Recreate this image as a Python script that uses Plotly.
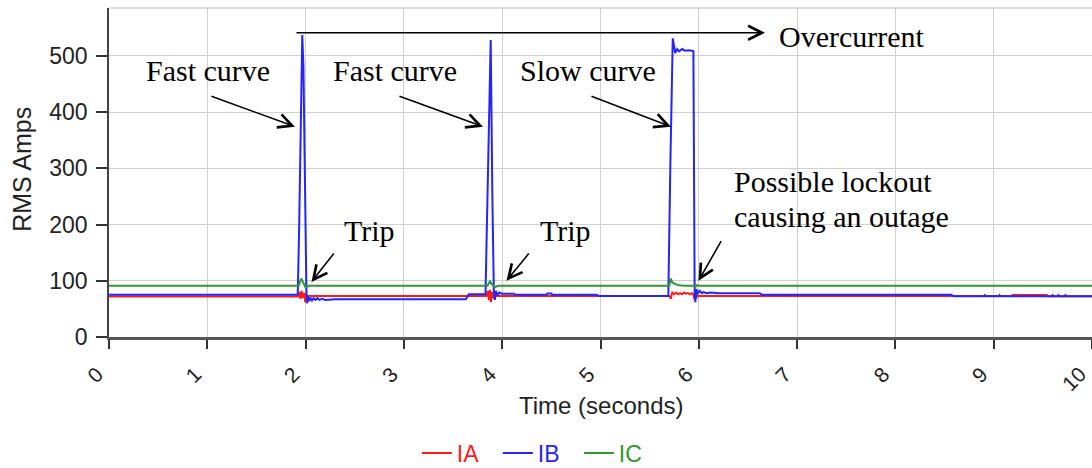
import plotly.graph_objects as go

# ---- data ----
ia_t = [0, 1.93, 1.94, 1.95, 1.96, 1.97, 1.985, 1.995, 2.005, 2.02,
        3.84, 3.855, 3.865, 3.875, 3.885, 3.895, 3.905, 3.92, 3.935,
        5.70, 5.715, 5.73, 5.75, 5.77, 5.79, 5.81, 5.83, 5.85, 5.87, 5.89, 5.91, 5.93,
        5.945, 5.955, 5.965, 5.975, 5.99, 6.0, 9.18, 9.19, 9.54, 9.55, 10]
ia_v = [72, 72, 80, 68, 82, 70, 78, 62, 75, 73,
        73, 82, 66, 84, 62, 80, 69, 75, 73,
        73, 68, 79, 76, 79, 76, 78, 76, 79, 77, 78, 76, 78,
        76, 67, 80, 69, 74, 73, 73, 74.5, 74.5, 72.5, 72.5]

ib_t = [0, 1.92, 1.935, 1.955, 1.966, 1.978, 1.995, 2.008, 2.015, 2.025, 2.035, 2.05,
        2.065, 2.08, 2.1, 2.12, 2.14, 2.17, 2.2, 2.25, 2.3,
        3.63, 3.66, 3.83, 3.85, 3.883, 3.90, 3.915, 3.925, 3.935, 3.95, 3.97, 4.0,
        4.12, 4.13, 4.45, 4.46, 4.5, 4.51, 4.96, 4.98,
        5.69, 5.71, 5.735, 5.76, 5.78, 5.80, 5.83, 5.86, 5.90, 5.93, 5.945,
        5.958, 5.965, 5.975, 5.99, 6.01, 6.03, 6.05, 6.08, 6.12, 6.2, 6.62, 6.64,
        8.57, 8.59, 8.90, 8.91, 8.92, 9.05, 9.06, 9.07, 9.59, 9.6, 9.61,
        9.65, 9.66, 9.67, 9.72, 9.73, 9.74, 10]
ib_v = [75, 75, 200, 480, 537, 480, 200, 85, 60, 72, 64, 70,
        65, 69, 66, 69, 66, 68, 66, 67, 67,
        67, 76, 76, 250, 528, 250, 80, 66, 82, 74, 79, 77,
        77, 75, 75, 77.5, 77.5, 75, 75, 73,
        73, 300, 531, 505, 512, 508, 512, 509, 510, 509, 508,
        72, 62, 85, 78, 82, 78, 80, 78, 79, 78, 78, 75.3,
        75.3, 72.4, 72.4, 74.5, 72.4, 72.4, 74.5, 72.4, 72.4, 74.5, 72.4,
        72.4, 74.5, 72.4, 72.4, 74.5, 72.4, 72.4]

ic_t = [0, 1.93, 1.955, 1.975, 2.0, 2.03, 3.85, 3.875, 3.9, 3.93, 3.96,
        5.70, 5.715, 5.73, 5.76, 5.8, 5.85, 5.95, 5.965, 5.98, 6.0, 10]
ic_v = [91, 91, 104, 96, 88, 91, 91, 99, 93, 89, 91,
        91, 104, 97, 94, 92, 91, 91, 89, 92, 91, 91]

series_names = ["IA", "IB", "IC"]
series_colors = ["#ff1a1a", "#2424ff", "#2e9a2e"]

x_ticks = [0, 1, 2, 3, 4, 5, 6, 7, 8, 9, 10]
y_ticks = [0, 100, 200, 300, 400, 500]

SANS = "Liberation Sans, Arial, sans-serif"
SERIF = "Liberation Serif, Times New Roman, serif"

fig = go.Figure()
for t, v, name, col in zip([ia_t, ib_t, ic_t], [ia_v, ib_v, ic_v], series_names, series_colors):
    fig.add_trace(go.Scatter(
        x=t, y=v, mode="lines",
        name=f"<span style='color:{col}'>{name}</span>",
        line=dict(color=col, width=2),
    ))

fig.update_layout(
    width=1092, height=468,
    margin=dict(l=109, r=0, t=8, b=131),
    paper_bgcolor="white", plot_bgcolor="white",
    font=dict(family=SANS, color="#222222"),
    showlegend=True,
    legend=dict(orientation="h", xref="container", yref="container",
                x=0.493, xanchor="center", y=0.032, yanchor="middle",
                entrywidth=36, entrywidthmode="pixels",
                font=dict(family=SANS, size=23), bgcolor="rgba(0,0,0,0)"),
    xaxis=dict(range=[0, 10], tickvals=x_ticks, ticktext=[str(v) for v in x_ticks],
               tickangle=-45, tickfont=dict(family=SANS, size=21, color="#222"),
               ticklabeloverflow="allow", ticklabelstandoff=5, ticklabelshift=-12,
               automargin=False,
               showgrid=True, gridcolor="#d0d0d0", gridwidth=1.3,
               showline=True, linecolor="#555555", linewidth=2.5,
               ticks="outside", ticklen=9, tickwidth=1.5, tickcolor="#333",
               zeroline=False),
    yaxis=dict(range=[0, 585], tickvals=y_ticks, ticktext=[str(v) for v in y_ticks],
               tickfont=dict(family=SANS, size=23, color="#222"), automargin=False,
               showgrid=True, gridcolor="#d0d0d0", gridwidth=1.3,
               showline=True, linecolor="#444444", linewidth=1.6,
               ticks="outside", ticklen=11, tickwidth=1.5, tickcolor="#333",
               ticklabelstandoff=4, zeroline=False),
)

# top frame line
fig.add_shape(type="line", xref="paper", yref="paper", x0=0, x1=1, y0=1, y1=1,
              line=dict(color="#d0d0d0", width=1.3))

# axis titles
fig.add_annotation(text="Time (seconds)", xref="paper", yref="paper", x=0.5, y=-0.207,
                   xanchor="center", yanchor="middle", showarrow=False,
                   font=dict(family=SANS, size=24, color="#222"))
fig.add_annotation(text="RMS Amps", xref="paper", yref="paper", x=-0.0885, y=0.508,
                   xanchor="center", yanchor="middle", showarrow=False, textangle=-90,
                   font=dict(family=SANS, size=25, color="#222"))

# text labels
labels = [
    ("Overcurrent", 7.558, 535, "center"),
    ("Fast curve", 1.002, 473, "center"),
    ("Fast curve", 2.909, 473, "center"),
    ("Slow curve", 4.873, 473, "center"),
    ("Trip", 2.655, 190, "center"),
    ("Trip", 4.639, 190, "center"),
    ("Possible lockout", 6.338, 276, "left"),
    ("causing an outage", 6.338, 214, "left"),
]
for txt, x, y, anc in labels:
    fig.add_annotation(text=txt, x=x, y=y, xref="x", yref="y", xanchor=anc, yanchor="middle",
                       showarrow=False, font=dict(family=SERIF, size=30, color="black"))

# arrows: (tip_x, tip_y, tail_x, tail_y)
arrows = [
    (6.673, 541, 1.892, 541),
    (1.892, 374, 1.027, 429),
    (3.805, 374, 2.940, 429),
    (5.717, 374, 4.893, 429),
    (2.060, 98, 2.299, 151),
    (4.044, 100, 4.283, 151),
    (5.997, 100, 6.236, 173),
]
for x, y, ax, ay in arrows:
    fig.add_annotation(text="", x=x, y=y, ax=ax, ay=ay, xref="x", yref="y", axref="x", ayref="y",
                       showarrow=True, arrowhead=5, arrowsize=1.7, arrowwidth=1.6,
                       arrowcolor="black", standoff=0, startstandoff=0)

fig.write_html("out.html")
